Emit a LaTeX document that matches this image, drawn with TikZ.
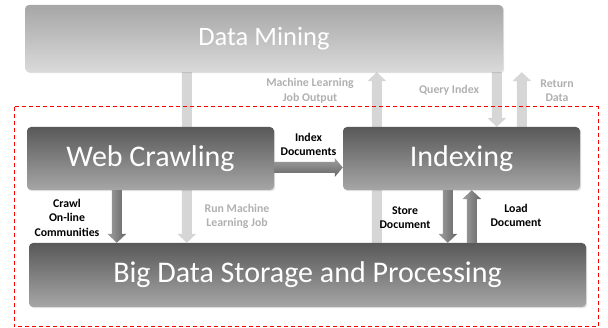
\documentclass[tikz,border=0pt]{standalone}
\usepackage{fontspec}
\setmainfont{Carlito}
\usetikzlibrary{calc,shadows,backgrounds}

\definecolor{boxtop}{HTML}{595959}
\definecolor{boxbot}{HTML}{A6A6A6}
\definecolor{dmtop}{HTML}{A6A6A6}
\definecolor{dmbot}{HTML}{DADADA}
\definecolor{palearrow}{HTML}{D6D6D6}
\definecolor{paletext}{HTML}{B0B0B0}
\definecolor{arrowlight}{HTML}{A0A0A0}
\definecolor{arrowdark}{HTML}{666666}
\definecolor{frame}{HTML}{FF0000}

% vertical block arrow: x and start y from #2, tip y from #3,
% #4 is + for a downward arrow and - for an upward one
\newcommand\varrow[4][]{%
  \path[#1] let \p1=#2, \p2=#3 in
    (\x1-5pt,\y1) -- (\x1-5pt,\y2#49pt) -- (\x1-9.5pt,\y2#49pt) -- (\x1,\y2)
    -- (\x1+9.5pt,\y2#49pt) -- (\x1+5pt,\y2#49pt) -- (\x1+5pt,\y1) -- cycle;}
% horizontal block arrow pointing right: y and start x from #2, tip x from #3
\newcommand\harrow[3][]{%
  \path[#1] let \p1=#2, \p2=#3 in
    (\x1,\y1+5.5pt) -- (\x2-8pt,\y1+5.5pt) -- (\x2-8pt,\y1+9.5pt) -- (\x2,\y1)
    -- (\x2-8pt,\y1-9.5pt) -- (\x2-8pt,\y1-5.5pt) -- (\x1,\y1-5.5pt) -- cycle;}

\tikzset{
  boxshadow/.style={drop shadow={opacity=0.25,shadow xshift=1.2pt,shadow yshift=-1.2pt}},
  darkbox/.style={rounded corners=4pt, top color=boxtop, bottom color=boxbot,
    text=white, inner sep=0pt, font=\fontsize{30}{34}\selectfont, boxshadow},
  minebox/.style={rounded corners=4pt, top color=dmtop, bottom color=dmbot,
    text=white, inner sep=0pt, font=\fontsize{26.5}{30}\selectfont, boxshadow},
  palearr/.style={fill=palearrow},
  vdark/.style={left color=arrowlight, right color=arrowdark},
  hdark/.style={top color=arrowlight, bottom color=arrowdark},
  paletag/.style={text=paletext, font=\bfseries\fontsize{11.8}{14.5}\selectfont, align=center, inner sep=0pt},
  darktag/.style={text=black, font=\bfseries\fontsize{11.8}{14.5}\selectfont, align=center, inner sep=0pt},
}

\begin{document}
\begin{tikzpicture}[x=1pt,y=-1pt]
  \useasboundingbox (0,0) rectangle (608,328);

  % boxes
  \node[minebox, minimum width=478pt, minimum height=67pt] (dm) at (264,38.5) {Data Mining};
  \node[darkbox, minimum width=247pt, minimum height=63pt] (wc) at (150.5,158.5) {Web Crawling};
  \node[darkbox, minimum width=237pt, minimum height=63pt] (ix) at (461.5,158.5) {Indexing};
  \node[darkbox, minimum width=557pt, minimum height=64pt] (bd) at (307.5,275) {Big Data Storage and Processing};

  % pale arrows to and from Data Mining, behind the boxes
  \begin{pgfonlayer}{background}
    \varrow[palearr]{([xshift=162pt]dm.south west)}{(bd.north)}{+}
    \varrow[palearr]{([xshift=348pt]bd.north west)}{(dm.south)}{-}
    \varrow[palearr]{([xshift=472pt]dm.south west)}{(ix.north)}{+}
    \varrow[palearr]{([xshift=179pt]ix.north west)}{(dm.south)}{-}
  \end{pgfonlayer}

  % dashed frame round the processing layer
  \draw[frame, line width=1pt, dash pattern=on 4pt off 3pt] (14,107) rectangle (598,327);

  % dark arrows between the lower boxes
  \varrow[vdark]{([xshift=90pt]wc.south west)}{(bd.north)}{+}
  \varrow[vdark]{([xshift=105pt]ix.south west)}{(bd.north)}{+}
  \varrow[vdark]{([xshift=129pt]bd.north -| ix.south west)}{(ix.south)}{-}
  \harrow[hdark]{([yshift=-9pt]wc.east)}{(ix.west)}

  % labels
  \node[paletag] (lmlo) at (310,91) {Machine Learning\\Job Output};
  \node[paletag] (lqi) at (449,90) {Query Index};
  \node[paletag] (lrd) at (557,90.5) {Return\\Data};
  \node[paletag] (lrml) at (237,216.5) {Run Machine\\Learning Job};
  \node[darktag] (lcrawl) at (67,217.5) {Crawl\\On-line\\Communities};
  \node[darktag] (lidx) at (308.5,144.5) {Index\\Documents};
  \node[darktag] (lstore) at (405,217.5) {Store\\Document};
  \node[darktag] (lload) at (516,215.5) {Load\\Document};
\end{tikzpicture}
\end{document}
